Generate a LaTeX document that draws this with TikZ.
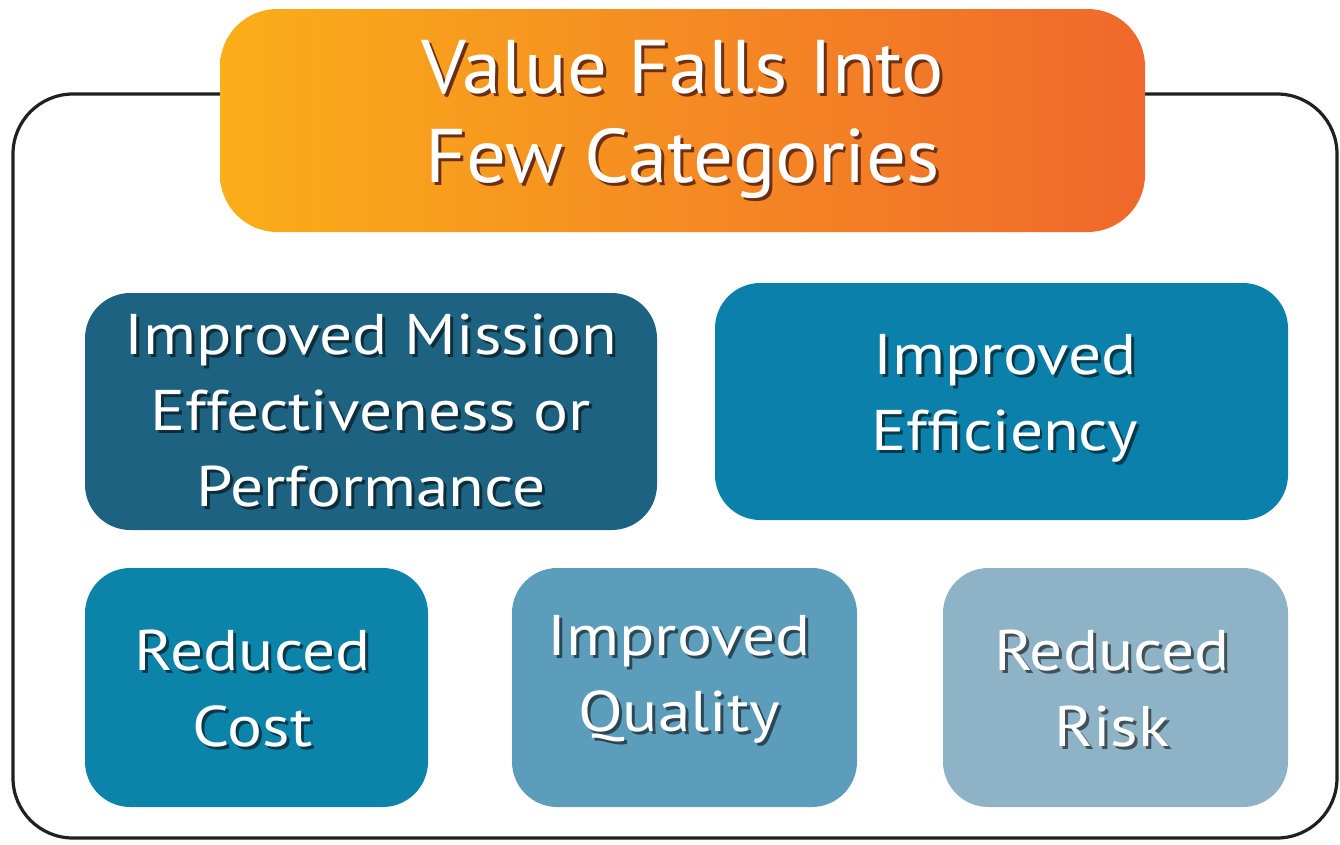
\documentclass[tikz,border=0pt]{standalone}
\usepackage{fontspec}
\setmainfont{PT Sans}
\newfontfamily\headfont[FakeStretch=1.04]{PT Sans}
\newfontfamily\boxfont[FakeStretch=1.14]{PT Sans}
\definecolor{frameline}{HTML}{231F20}
\definecolor{titleA}{HTML}{FAAE19}
\definecolor{titleB}{HTML}{F5951F}
\definecolor{titleC}{HTML}{F0682B}
\definecolor{missionblue}{HTML}{1D6381}
\definecolor{efficblue}{HTML}{0A80AA}
\definecolor{costblue}{HTML}{0C84A9}
\definecolor{qualblue}{HTML}{5B9DBA}
\definecolor{riskblue}{HTML}{8FB3C6}
\colorlet{shadecol}{black}
% white line with a dark copy just below and to the right
\newcommand{\shline}[1]{\rlap{\kern2.2pt\raisebox{-2.2pt}{\color{shadecol}#1}}#1}
\tikzset{
  catbox/.style={rounded corners=34pt, inner sep=0pt},
  catlabel/.style={align=center, text=white, inner sep=0pt,
    font=\boxfont\fontsize{43}{57}\selectfont,
    execute at begin node=\colorlet{shadecol}{#1!45!black}},
}
\begin{document}
\begin{tikzpicture}[x=0.75pt, y=-0.75pt]
    \useasboundingbox (0,0) rectangle (1340,844);
    % outer frame
    \draw[frameline, line width=2.4pt, rounded corners=45pt] (13,94) rectangle (1337,838);
    % heading box
    \node[catbox, rounded corners=43pt, minimum width=693.75pt, minimum height=167.25pt,
          left color=titleA, middle color=titleB, right color=titleC] (title) at (682.5,120.5) {};
    \node[catlabel=titleC, font=\headfont\fontsize{57}{67}\selectfont] (title-txt) at (682.5,121)
          {\shline{Value Falls Into}\\\shline{Few Categories}};
    % upper row
    \node[catbox, fill=missionblue, minimum width=429pt, minimum height=177.75pt] (mission) at (371,411.5) {};
    \node[catlabel=missionblue] (mission-txt) at (371,412)
          {\shline{Improved Mission}\\\shline{Effectiveness or}\\\shline{Performance}};
    \node[catbox, fill=efficblue, minimum width=429.75pt, minimum height=177.75pt] (effic) at (1001.5,401.5) {};
    \node[catlabel=efficblue] (effic-txt) at (1005,400) {\shline{Improved}\\\shline{Efficiency}};
    % lower row
    \node[catbox, fill=costblue, minimum width=257.25pt, minimum height=179.25pt] (cost) at (256.5,687.5) {};
    \node[catlabel=costblue] (cost-txt) at (252.5,690) {\shline{Reduced}\\\shline{Cost}};
    \node[catbox, fill=qualblue, minimum width=258.75pt, minimum height=179.25pt] (qual) at (684.5,687.5) {};
    \node[catlabel=qualblue] (qual-txt) at (679,681) {\shline{Improved}\\\shline{Quality}};
    \node[catbox, fill=riskblue, minimum width=258.75pt, minimum height=179.25pt] (risk) at (1115.5,687.5) {};
    \node[catlabel=riskblue] (risk-txt) at (1112,690) {\shline{Reduced}\\\shline{Risk}};
\end{tikzpicture}
\end{document}
